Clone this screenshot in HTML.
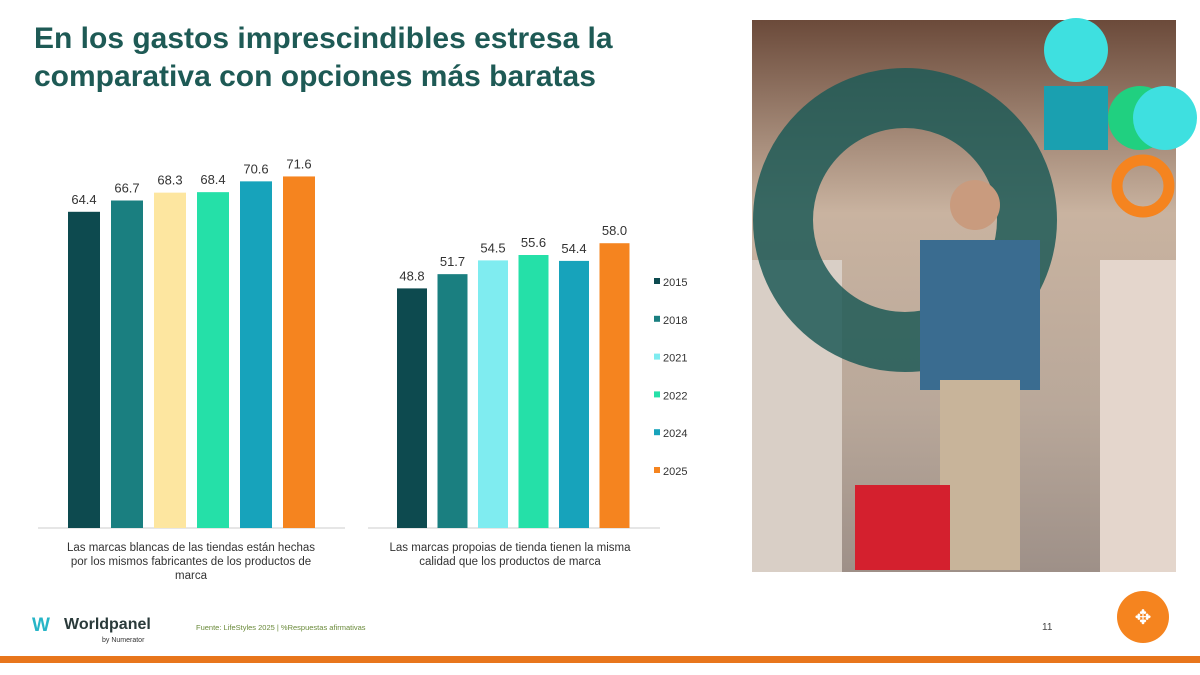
<!DOCTYPE html>
<html><head><meta charset="utf-8"><style>
body{margin:0;width:1200px;height:675px;background:#fff;position:relative;overflow:hidden;font-family:"Liberation Sans",sans-serif}
.t{position:absolute;left:34px;top:20px;font-size:30px;font-weight:bold;color:#1e5a55;line-height:38px}
</style></head><body>
<div class="t">En los gastos imprescindibles estresa la<br>comparativa con opciones más baratas</div>
<svg id="c" width="1200" height="675" style="position:absolute;left:0;top:0">
<defs><linearGradient id="pg" x1="0" y1="0" x2="0" y2="1"><stop offset="0" stop-color="#6b4a3a"/><stop offset="0.35" stop-color="#c9b3a0"/><stop offset="0.7" stop-color="#b9a89a"/><stop offset="1" stop-color="#9e9088"/></linearGradient></defs>
<g>
<rect x="752" y="20" width="424" height="552" fill="url(#pg)"/>
<rect x="752" y="260" width="90" height="312" fill="#d9cfc6"/>
<rect x="1100" y="260" width="76" height="312" fill="#e4d6cc"/>
<circle cx="905" cy="220" r="122" fill="none" stroke="#1f5b57" stroke-width="60" opacity="0.85"/>
<rect x="920" y="240" width="120" height="150" fill="#3a6c90"/>
<circle cx="975" cy="205" r="25" fill="#c99b7e"/>
<rect x="940" y="380" width="80" height="190" fill="#c8b49a"/>
<rect x="855" y="485" width="95" height="85" fill="#d4202e"/>
<circle cx="1076" cy="50" r="32" fill="#3ee0e0"/>
<rect x="1044" y="86" width="64" height="64" fill="#1aa0b0"/>
<circle cx="1140" cy="118" r="32" fill="#20d080"/>
<circle cx="1165" cy="118" r="32" fill="#3ee0e0"/>
<circle cx="1143" cy="186" r="26" fill="none" stroke="#f5841f" stroke-width="11"/>
</g>
<line x1="38" y1="528" x2="345" y2="528" stroke="#ccc"/>
<line x1="368" y1="528" x2="660" y2="528" stroke="#ccc"/>
<text x="191" y="551" font-size="11.5" fill="#333" text-anchor="middle">Las marcas blancas de las tiendas están hechas</text>
<text x="191" y="565" font-size="11.5" fill="#333" text-anchor="middle">por los mismos fabricantes de los productos de</text>
<text x="191" y="579" font-size="11.5" fill="#333" text-anchor="middle">marca</text>
<text x="510" y="551" font-size="11.5" fill="#333" text-anchor="middle">Las marcas propoias de tienda tienen la misma</text>
<text x="510" y="565" font-size="11.5" fill="#333" text-anchor="middle">calidad que los productos de marca</text>
<g id="legend"></g>
<g>
<text x="32" y="631" font-size="19" font-weight="bold" fill="#27b5c7">W</text>
<text x="64" y="629" font-size="16" font-weight="bold" fill="#2a3a3a">Worldpanel</text>
<text x="102" y="642" font-size="7" fill="#333">by Numerator</text>
<text x="196" y="630" font-size="7.5" fill="#6a8a3a">Fuente: LifeStyles 2025 | %Respuestas afirmativas</text>
<text x="1042" y="630" font-size="10" fill="#444">11</text>
<circle cx="1143" cy="617" r="26" fill="#f5841f"/>
<text x="1143" y="624" font-size="20" fill="#fff" text-anchor="middle">✥</text>
<rect x="0" y="656" width="1200" height="7" fill="#e8761c"/>
</g>
</svg>
<script>
const years=["2015","2018","2021","2022","2024","2025"];
const values1=[64.4,66.7,68.3,68.4,70.6,71.6];
const values2=[48.8,51.7,54.5,55.6,54.4,58.0];
const colors1=["#0d4a4f","#1a7f80","#fde6a0","#25e0a8","#17a3bb","#f5841f"];
const colors2=["#0d4a4f","#1a7f80","#7fecf0","#25e0a8","#17a3bb","#f5841f"];
const svg=document.getElementById('c');const NS="http://www.w3.org/2000/svg";
const base=528,k=4.91;const y=v=>base-v*k;
function draw(vals,cols,x0,step,w,tag){
vals.forEach((v,i)=>{
const r=document.createElementNS(NS,'rect');
r.setAttribute('x',x0+i*step);r.setAttribute('y',y(v));r.setAttribute('width',w);r.setAttribute('height',base-y(v));r.setAttribute('fill',cols[i]);


svg.appendChild(r);
const t=document.createElementNS(NS,'text');
t.setAttribute('x',x0+i*step+w/2);t.setAttribute('y',y(v)-8);t.setAttribute('text-anchor','middle');t.setAttribute('font-size','13');t.setAttribute('fill','#333');
t.textContent=v.toFixed(1);


svg.appendChild(t);});}
draw(values1,colors1,68,43,32,'a');
draw(values2,colors2,397,40.5,30,'b');
const lg=document.getElementById('legend');
years.forEach((yr,i)=>{
const g=document.createElementNS(NS,'g');


const yy=282+i*37.8;
const r=document.createElementNS(NS,'rect');r.setAttribute('x',654);r.setAttribute('y',yy-4);r.setAttribute('width',6);r.setAttribute('height',6);r.setAttribute('fill',colors2[i]);g.appendChild(r);
const t=document.createElementNS(NS,'text');t.setAttribute('x',663);t.setAttribute('y',yy+4);t.setAttribute('font-size','11');t.setAttribute('fill','#333');t.textContent=yr;g.appendChild(t);
lg.appendChild(g);});
</script>
</body></html>
